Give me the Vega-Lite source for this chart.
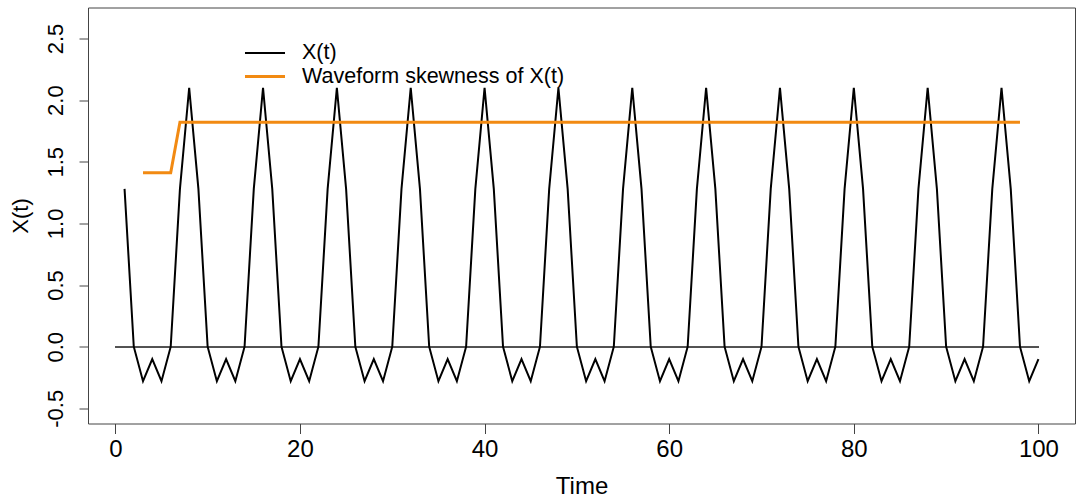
{
  "$schema": "https://vega.github.io/schema/vega-lite/v6.json",
  "width": 987,
  "height": 416,
  "autosize": {"type": "none"},
  "padding": {"left": 88, "top": 7.5, "right": 4, "bottom": 77},
  "background": "white",
  "config": {
    "font": "Liberation Sans",
    "view": {"stroke": "#444", "strokeWidth": 1},
    "legend": {
      "orient": "none",
      "legendX": 164,
      "legendY": 33,
      "title": null,
      "padding": 0,
      "symbolType": "M-1.74,0H1.74",
      "symbolSize": 529,
      "labelFontSize": 21.5,
      "labelOffset": 24,
      "labelColor": "black",
      "labelLimit": 0,
      "rowPadding": -2
    }
  },
  "data": {
    "values": [
      {"t": 1, "x": 1.28}, {"t": 2, "x": 0}, {"t": 3, "x": -0.28, "w": 1.41}, {"t": 4, "x": -0.1, "w": 1.41},
      {"t": 5, "x": -0.28, "w": 1.41}, {"t": 6, "x": 0, "w": 1.41}, {"t": 7, "x": 1.28, "w": 1.82}, {"t": 8, "x": 2.1, "w": 1.82},
      {"t": 9, "x": 1.28, "w": 1.82}, {"t": 10, "x": 0, "w": 1.82}, {"t": 11, "x": -0.28, "w": 1.82}, {"t": 12, "x": -0.1, "w": 1.82},
      {"t": 13, "x": -0.28, "w": 1.82}, {"t": 14, "x": 0, "w": 1.82}, {"t": 15, "x": 1.28, "w": 1.82}, {"t": 16, "x": 2.1, "w": 1.82},
      {"t": 17, "x": 1.28, "w": 1.82}, {"t": 18, "x": 0, "w": 1.82}, {"t": 19, "x": -0.28, "w": 1.82}, {"t": 20, "x": -0.1, "w": 1.82},
      {"t": 21, "x": -0.28, "w": 1.82}, {"t": 22, "x": 0, "w": 1.82}, {"t": 23, "x": 1.28, "w": 1.82}, {"t": 24, "x": 2.1, "w": 1.82},
      {"t": 25, "x": 1.28, "w": 1.82}, {"t": 26, "x": 0, "w": 1.82}, {"t": 27, "x": -0.28, "w": 1.82}, {"t": 28, "x": -0.1, "w": 1.82},
      {"t": 29, "x": -0.28, "w": 1.82}, {"t": 30, "x": 0, "w": 1.82}, {"t": 31, "x": 1.28, "w": 1.82}, {"t": 32, "x": 2.1, "w": 1.82},
      {"t": 33, "x": 1.28, "w": 1.82}, {"t": 34, "x": 0, "w": 1.82}, {"t": 35, "x": -0.28, "w": 1.82}, {"t": 36, "x": -0.1, "w": 1.82},
      {"t": 37, "x": -0.28, "w": 1.82}, {"t": 38, "x": 0, "w": 1.82}, {"t": 39, "x": 1.28, "w": 1.82}, {"t": 40, "x": 2.1, "w": 1.82},
      {"t": 41, "x": 1.28, "w": 1.82}, {"t": 42, "x": 0, "w": 1.82}, {"t": 43, "x": -0.28, "w": 1.82}, {"t": 44, "x": -0.1, "w": 1.82},
      {"t": 45, "x": -0.28, "w": 1.82}, {"t": 46, "x": 0, "w": 1.82}, {"t": 47, "x": 1.28, "w": 1.82}, {"t": 48, "x": 2.1, "w": 1.82},
      {"t": 49, "x": 1.28, "w": 1.82}, {"t": 50, "x": 0, "w": 1.82}, {"t": 51, "x": -0.28, "w": 1.82}, {"t": 52, "x": -0.1, "w": 1.82},
      {"t": 53, "x": -0.28, "w": 1.82}, {"t": 54, "x": 0, "w": 1.82}, {"t": 55, "x": 1.28, "w": 1.82}, {"t": 56, "x": 2.1, "w": 1.82},
      {"t": 57, "x": 1.28, "w": 1.82}, {"t": 58, "x": 0, "w": 1.82}, {"t": 59, "x": -0.28, "w": 1.82}, {"t": 60, "x": -0.1, "w": 1.82},
      {"t": 61, "x": -0.28, "w": 1.82}, {"t": 62, "x": 0, "w": 1.82}, {"t": 63, "x": 1.28, "w": 1.82}, {"t": 64, "x": 2.1, "w": 1.82},
      {"t": 65, "x": 1.28, "w": 1.82}, {"t": 66, "x": 0, "w": 1.82}, {"t": 67, "x": -0.28, "w": 1.82}, {"t": 68, "x": -0.1, "w": 1.82},
      {"t": 69, "x": -0.28, "w": 1.82}, {"t": 70, "x": 0, "w": 1.82}, {"t": 71, "x": 1.28, "w": 1.82}, {"t": 72, "x": 2.1, "w": 1.82},
      {"t": 73, "x": 1.28, "w": 1.82}, {"t": 74, "x": 0, "w": 1.82}, {"t": 75, "x": -0.28, "w": 1.82}, {"t": 76, "x": -0.1, "w": 1.82},
      {"t": 77, "x": -0.28, "w": 1.82}, {"t": 78, "x": 0, "w": 1.82}, {"t": 79, "x": 1.28, "w": 1.82}, {"t": 80, "x": 2.1, "w": 1.82},
      {"t": 81, "x": 1.28, "w": 1.82}, {"t": 82, "x": 0, "w": 1.82}, {"t": 83, "x": -0.28, "w": 1.82}, {"t": 84, "x": -0.1, "w": 1.82},
      {"t": 85, "x": -0.28, "w": 1.82}, {"t": 86, "x": 0, "w": 1.82}, {"t": 87, "x": 1.28, "w": 1.82}, {"t": 88, "x": 2.1, "w": 1.82},
      {"t": 89, "x": 1.28, "w": 1.82}, {"t": 90, "x": 0, "w": 1.82}, {"t": 91, "x": -0.28, "w": 1.82}, {"t": 92, "x": -0.1, "w": 1.82},
      {"t": 93, "x": -0.28, "w": 1.82}, {"t": 94, "x": 0, "w": 1.82}, {"t": 95, "x": 1.28, "w": 1.82}, {"t": 96, "x": 2.1, "w": 1.82},
      {"t": 97, "x": 1.28, "w": 1.82}, {"t": 98, "x": 0, "w": 1.82}, {"t": 99, "x": -0.28}, {"t": 100, "x": -0.1}
    ]
  },
  "layer": [
    {
      "mark": {"type": "rule", "color": "#555", "strokeWidth": 1},
      "encoding": {
        "x": {"datum": 0, "type": "quantitative"},
        "x2": {"datum": 100},
        "y": {"datum": 0, "type": "quantitative"}
      }
    },
    {
      "transform": [{"fold": ["x", "w"], "as": ["series", "value"]}],
      "mark": {"type": "line", "strokeJoin": "miter"},
      "encoding": {
        "x": {
          "field": "t",
          "type": "quantitative",
          "scale": {"domain": [-2.96, 103.96], "nice": false, "zero": false},
          "axis": {
            "title": "Time",
            "values": [0, 20, 40, 60, 80, 100],
            "grid": false,
            "domain": false,
            "tickColor": "#444",
            "tickSize": 10,
            "labelFontSize": 24,
            "labelColor": "black",
            "labelPadding": 4,
            "labelFlush": false,
            "titleFontSize": 24,
            "titleFontWeight": "normal",
            "titleColor": "black",
            "titleBaseline": "alphabetic",
            "titleY": 69.5
          }
        },
        "y": {
          "field": "value",
          "type": "quantitative",
          "scale": {"domain": [-0.623, 2.751], "nice": false, "zero": false},
          "axis": {
            "title": "X(t)",
            "values": [-0.5, 0, 0.5, 1, 1.5, 2, 2.5],
            "labelExpr": "datum.value < 0 ? '-' + format(-datum.value, '.1f') : format(datum.value, '.1f')",
            "grid": false,
            "domain": false,
            "tickColor": "#444",
            "tickSize": 9,
            "labelAngle": 270,
            "labelFontSize": 22,
            "labelColor": "black",
            "labelPadding": 12,
            "labelFlush": false,
            "titleFontSize": 22,
            "titleFontWeight": "normal",
            "titleColor": "black",
            "titleBaseline": "alphabetic",
            "titleX": -60.7
          }
        },
        "color": {
          "field": "series",
          "type": "nominal",
          "scale": {"domain": ["x", "w"], "range": ["black", "#F28A12"]},
          "legend": {"labelExpr": "datum.value == 'x' ? 'X(t)' : 'Waveform skewness of X(t)'"}
        },
        "strokeWidth": {
          "field": "series",
          "type": "nominal",
          "scale": {"domain": ["x", "w"], "range": [2, 3]},
          "legend": {"labelExpr": "datum.value == 'x' ? 'X(t)' : 'Waveform skewness of X(t)'"}
        }
      }
    }
  ]
}
